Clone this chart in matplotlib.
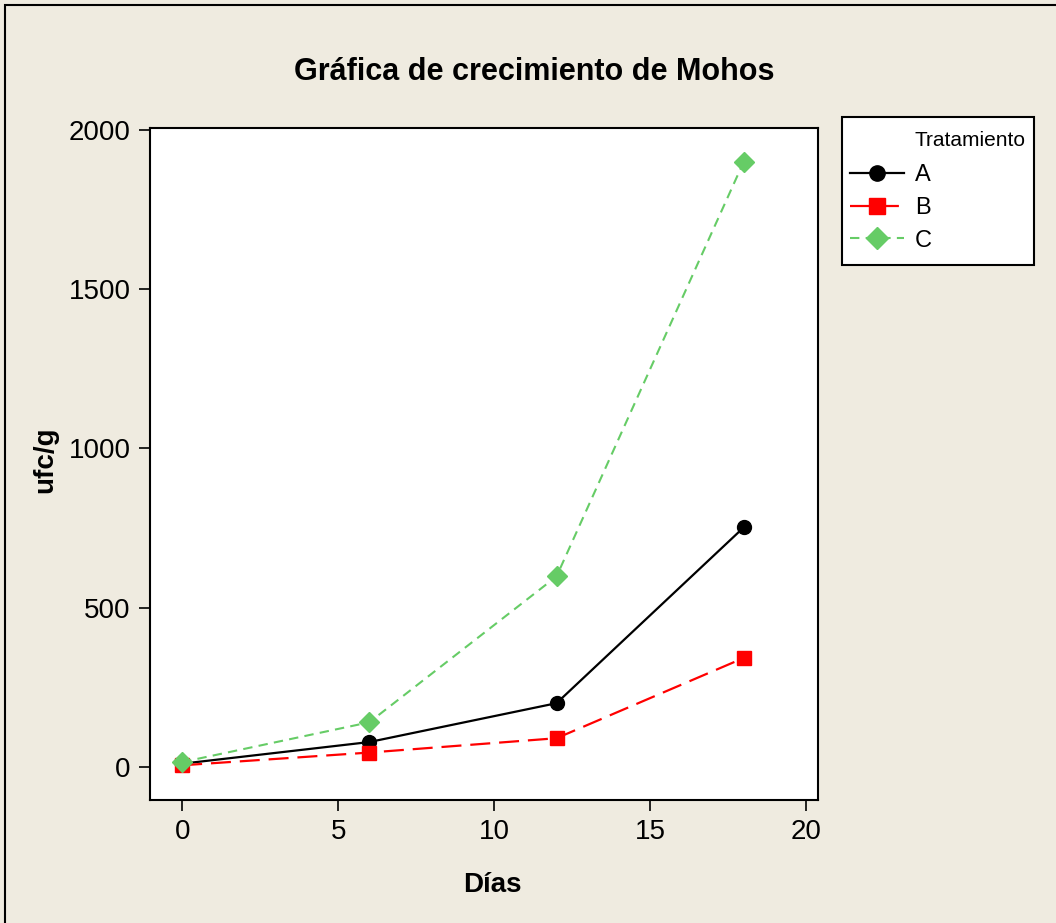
import matplotlib
matplotlib.use("Agg")
import matplotlib.pyplot as plt
from matplotlib.patches import Rectangle

# data
dias = [0, 6, 12, 18]
trat_a = [10, 78, 200, 752]
trat_b = [5, 45, 90, 342]
trat_c = [15, 140, 598, 1900]
x_ticks = [0, 5, 10, 15, 20]
y_ticks = [0, 500, 1000, 1500, 2000]

plt.rcParams["font.family"] = ["Liberation Sans", "DejaVu Sans"]

W, H = 1056, 923
bg = "#efebe0"
fig = plt.figure(figsize=(W / 100, H / 100), dpi=100, facecolor=bg)
# outer frame (only left and top edges show in the reference)
fig.patches.append(Rectangle((5 / W, -0.1), 1.2, 1.1 - 5 / H,
                             transform=fig.transFigure, fill=False,
                             edgecolor="black", linewidth=1.5, zorder=-2))

ax = fig.add_axes([150 / W, 1 - 800 / H, 668 / W, 672 / H])
ax.set_facecolor("white")

ax.plot(dias, trat_a, color="black", lw=1.6, marker="o", ms=10,
        label="A", zorder=3)
ax.plot(dias, trat_b, color="red", lw=1.6, ls=(0, (9, 4)), marker="s",
        ms=10, label="B", zorder=3)
ax.plot(dias, trat_c, color="#66cc66", lw=1.5, ls=(0, (4.5, 3)), marker="D",
        ms=10.5, label="C", zorder=3)

ax.set_xlim(-1.03, 20.38)
ax.set_ylim(-104, 2006)
ax.set_xticks(x_ticks)
ax.set_yticks(y_ticks)
ax.tick_params(direction="out", length=8, width=1.2, labelsize=20, pad=6)
for s in ax.spines.values():
    s.set_linewidth(1.5)

ax.set_xlabel("Días", fontsize=20, fontweight="bold")
ax.xaxis.set_label_coords((492 - 150) / 668, -(872 - 800) / 672)
ax.set_ylabel("ufc/g", fontsize=20, fontweight="bold")
ax.yaxis.set_label_coords(-(150 - 58) / 668, (800 - 460) / 672)
fig.text(534 / W, 1 - 72 / H, "Gráfica de crecimiento de Mohos",
         ha="center", va="center", fontsize=22, fontweight="bold")

# legend box drawn by hand, entries placed inside it
fig.patches.append(Rectangle((842 / W, 1 - 265 / H), 192 / W, 148 / H,
                             transform=fig.transFigure, facecolor="white",
                             edgecolor="black", linewidth=1.5, zorder=-1))
leg = ax.legend(loc="center left", bbox_to_anchor=(850 / W, 1 - 208 / H),
                bbox_transform=fig.transFigure, fontsize=17, frameon=False,
                borderpad=0, borderaxespad=0, handlelength=2.3,
                handletextpad=0.45, labelspacing=0.45, markerscale=1.1)

fig.canvas.draw()
x0 = leg.get_texts()[0].get_window_extent().x0
fig.text(x0 / W, 1 - 141 / H, "Tratamiento", ha="left", va="center",
         fontsize=15)

fig.savefig("out.png", dpi=100, facecolor=bg)
